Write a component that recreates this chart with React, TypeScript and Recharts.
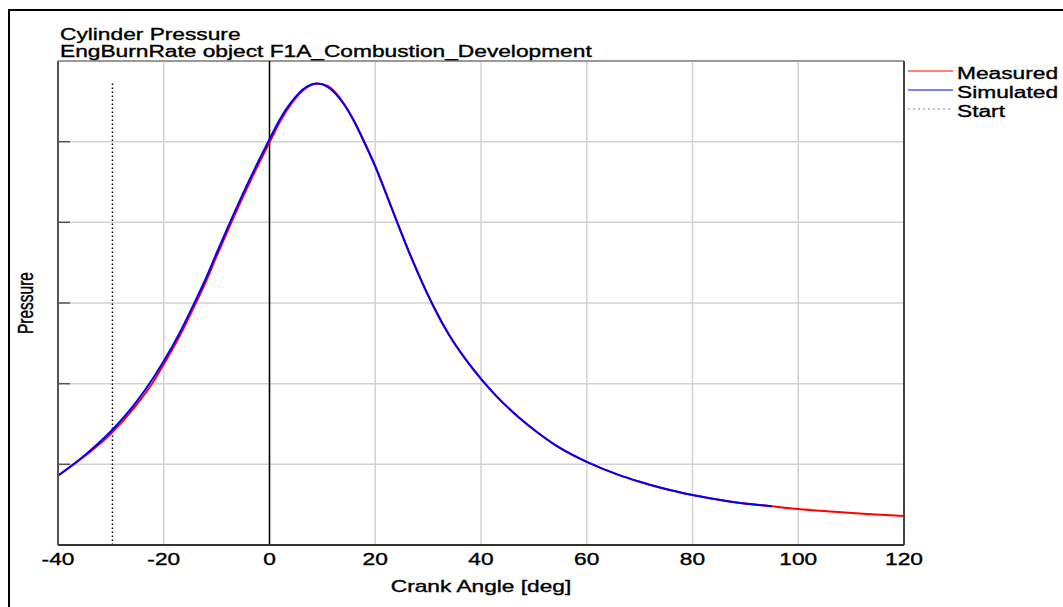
import React from 'react';
import { LineChart, Line, XAxis, YAxis, CartesianGrid, ReferenceLine, Legend } from 'recharts';

// crank angle [deg] and cylinder pressure readings
const angles = [-40, -35, -30, -25, -22, -20, -17, -14, -12, -10, -7, -5, -2, 0, 2, 4, 7, 9, 11, 14, 16, 18, 20, 22, 24, 26, 28, 31, 34, 37, 40, 43, 47, 51, 55, 60, 66, 70, 74, 80, 87, 95, 100, 106, 113, 120];
const measuredPressure = [8.6, 11.0, 13.8, 17.5, 20.2, 22.4, 25.9, 29.9, 32.7, 35.8, 40.3, 43.2, 47.3, 49.9, 52.5, 54.6, 56.7, 57.2, 56.9, 54.8, 52.6, 49.9, 47.0, 43.7, 40.3, 37.0, 33.9, 29.6, 26.0, 23.1, 20.6, 18.4, 15.9, 13.8, 12.0, 10.3, 8.7, 7.85, 7.1, 6.2, 5.4, 4.8, 4.45, 4.15, 3.85, 3.6];
const simulatedAngles = [-40, -35, -30, -25, -22, -20, -17, -14, -12, -10, -7, -5, -2, 0, 2, 4, 7, 9, 11, 14, 16, 18, 20, 22, 24, 26, 28, 31, 34, 37, 40, 43, 47, 51, 55, 60, 66, 70, 74, 80, 87, 95];
const simulatedPressure = [8.6, 11.1, 14.1, 17.9, 20.7, 22.8, 26.3, 30.3, 33.1, 36.2, 40.7, 43.6, 47.7, 50.3, 52.8, 54.8, 56.8, 57.2, 56.8, 54.7, 52.5, 49.8, 46.9, 43.6, 40.2, 36.9, 33.8, 29.6, 26.0, 23.1, 20.6, 18.4, 15.9, 13.8, 12.0, 10.3, 8.7, 7.85, 7.1, 6.2, 5.4, 4.8];
const startAngle = -29.7;
const startTop = 57.3;

const xTicks = [-40, -20, 0, 20, 40, 60, 80, 100, 120];
const yTicks = [10, 20, 30, 40, 50];
const legendOrder = ['Measured', 'Simulated', 'Start'];

const measuredData = angles.map((a, i) => ({ angle: a, p: measuredPressure[i] }));
const simulatedData = simulatedAngles.map((a, i) => ({ angle: a, p: simulatedPressure[i] }));
const startData = [{ angle: startAngle, p: 0 }, { angle: startAngle, p: startTop }];

const FONT = '"Liberation Sans", Arial, Helvetica, sans-serif';
const SX = 1.42;

const XTick = ({ x, y, payload }: any) => (
    <text transform={`translate(${x},${y + 20}) scale(${SX},1)`} textAnchor="middle" fontSize={16} fontFamily={FONT}
        fill="#000" stroke="#000" strokeWidth={0.35}>
        {payload.value}
    </text>
);

const YTick = ({ x, y }: any) => (
    <line x1={x} x2={x + 12} y1={y} y2={y} stroke="#555" strokeWidth={1.5} />
);

const XLabel = ({ viewBox }: any) => (
    <text
        transform={`translate(${viewBox.x + viewBox.width / 2},${viewBox.y + 47}) scale(${SX},1)`}
        textAnchor="middle" fontSize={16} fontFamily={FONT} fill="#000" stroke="#000" strokeWidth={0.35}
    >
        Crank Angle [deg]
    </text>
);

const YLabel = ({ viewBox }: any) => (
    <text
        transform={`translate(33,${viewBox.y + viewBox.height / 2}) scale(${SX},1) rotate(-90)`}
        textAnchor="middle" fontSize={15.5} fontFamily={FONT} fill="#000" stroke="#000" strokeWidth={0.3}
    >
        Pressure
    </text>
);

const renderLegend = (props: any) => {
    const items = [...(props.payload || [])].sort(
        (a: any, b: any) => legendOrder.indexOf(a.value) - legendOrder.indexOf(b.value)
    );
    return (
        <div style={{ fontFamily: FONT }}>
            {items.map((item: any) => (
                <div key={item.value} style={{ position: 'relative', height: 18.7 }}>
                    <svg width={46} height={18.7} style={{ position: 'absolute', left: 0, top: 0 }}>
                        <line
                            x1={0} x2={45} y1={7} y2={7}
                            stroke={item.value === 'Start' ? '#888' : item.color}
                            strokeWidth={1.2}
                            strokeDasharray={item.value === 'Start' ? '2 3' : undefined}
                        />
                    </svg>
                    <span style={{
                        position: 'absolute', left: 49, top: 0, fontSize: 16, lineHeight: '19px',
                        color: '#000', whiteSpace: 'nowrap', transform: `scaleX(${SX})`, transformOrigin: 'left center',
                        WebkitTextStroke: '0.35px #000'
                    }}>
                        {item.value}
                    </span>
                </div>
            ))}
        </div>
    );
};

const titleStyle: React.CSSProperties = {
    position: 'absolute', left: 60, fontSize: 16, lineHeight: '18px', fontFamily: FONT, color: '#000',
    whiteSpace: 'nowrap', transform: `scaleX(${SX})`, transformOrigin: 'left center', WebkitTextStroke: '0.35px #000'
};

export default function App() {
    return (
        <div style={{ position: 'absolute', left: 0, top: 0, width: 1063, height: 607, overflow: 'hidden', background: '#fff' }}>
            <div style={{ position: 'absolute', left: 8, top: 9, width: 1200, height: 800, borderLeft: '2px solid #000', borderTop: '2px solid #000' }} />
            <div style={{ position: 'absolute', left: 0, top: 0 }}>
                <LineChart width={1063} height={607} margin={{ top: 61, right: 159, bottom: 0, left: 0 }}>
                    <CartesianGrid stroke="#d2d2d2" strokeWidth={1.5} horizontalValues={yTicks} verticalValues={xTicks} />
                    <XAxis
                        dataKey="angle" type="number" domain={[-40, 120]} ticks={xTicks} allowDataOverflow
                        height={62} tickSize={0} tickMargin={0} tickLine={false}
                        axisLine={{ stroke: '#333', strokeWidth: 2 }}
                        tick={(p: any) => <XTick {...p} />}
                        label={{ content: (p: any) => <XLabel {...p} /> }}
                    />
                    <YAxis
                        type="number" domain={[0, 60]} ticks={yTicks} allowDataOverflow
                        width={58} tickSize={0} tickMargin={0} tickLine={false}
                        axisLine={{ stroke: '#555', strokeWidth: 2 }}
                        tick={(p: any) => <YTick {...p} />}
                        label={{ content: (p: any) => <YLabel {...p} /> }}
                    />
                    <ReferenceLine y={60} stroke="#999" strokeWidth={2} />
                    <ReferenceLine x={120} stroke="#444" strokeWidth={2} />
                    <ReferenceLine x={0} stroke="#000" strokeWidth={1.5} />
                    <Legend
                        layout="horizontal" verticalAlign="middle" align="center"
                        wrapperStyle={{ position: 'absolute', left: 908, top: 64.3, width: 150, height: 60 }}
                        content={renderLegend}
                    />
                    <Line
                        data={startData} dataKey="p" name="Start" type="linear" stroke="#000"
                        strokeWidth={1.5} strokeDasharray="1.5 2.5" dot={false} isAnimationActive={false}
                    />
                    <Line
                        data={measuredData} dataKey="p" name="Measured" type="monotone" stroke="#ff0000"
                        strokeWidth={2} dot={false} isAnimationActive={false}
                    />
                    <Line
                        data={simulatedData} dataKey="p" name="Simulated" type="monotone" stroke="#0000ff"
                        strokeWidth={2} dot={false} isAnimationActive={false}
                    />
                </LineChart>
            </div>
            <div style={{ ...titleStyle, top: 25.5 }}>Cylinder Pressure</div>
            <div style={{ ...titleStyle, top: 43.3 }}>EngBurnRate object F1A_Combustion_Development</div>
        </div>
    );
}
